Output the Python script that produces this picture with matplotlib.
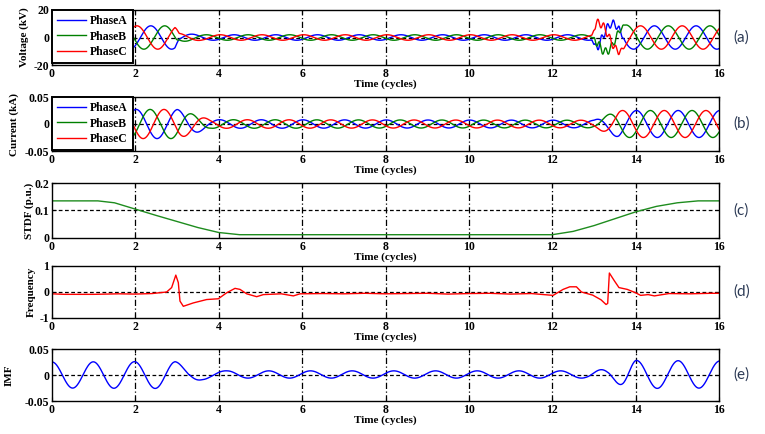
import numpy as np
import matplotlib
matplotlib.use("Agg")
import matplotlib.pyplot as plt

# ---------------- data ----------------
x_ticks = [0, 2, 4, 6, 8, 10, 12, 14, 16]
phase_names = ["PhaseA", "PhaseB", "PhaseC"]
panel_tags = ["(a)", "(b)", "(c)", "(d)", "(e)"]

# Voltage (kV): per-cycle envelope of the three-phase waveform
volt_env_t = [0, 2.95, 3.05, 3.6, 12.95, 13.05, 13.6, 13.9, 16]
volt_env_amp = [8.5, 8.5, 3.0, 2.0, 2.0, 10.5, 10.0, 8.5, 8.5]
volt_phase_t = [0, 12.95, 13.1, 16]
volt_phase_A = [0.37, 0.37, 0.45, 0.45]          # time of phase-A peak (fraction of cycle)
volt_ripple_t = [0, 12.98, 13.05, 13.6, 13.75, 16]
volt_ripple_amp = [0, 0, 3.0, 2.5, 0, 0]         # distortion during the 13-13.7 transient

# Current (kA)
curr_env_t = [0, 3.0, 3.8, 13.0, 13.6, 16]
curr_env_amp = [0.027, 0.027, 0.008, 0.007, 0.025, 0.025]
curr_phase_A = 0.02

# STDF (p.u.)
stdf_t = [0, 1.1, 1.5, 2.0, 2.5, 3.0, 3.5, 4.0, 4.5, 12.0, 12.5, 13.0, 13.5, 14.0, 14.5, 15.0, 15.5, 16]
stdf_v = [0.135, 0.135, 0.128, 0.105, 0.082, 0.060, 0.038, 0.020, 0.012, 0.012, 0.024, 0.045, 0.070, 0.095, 0.115, 0.128, 0.135, 0.135]

# Frequency deviation
freq_t = [0.0, 0.3, 1.0, 1.6, 2.0, 2.4, 2.75, 2.87, 2.97, 3.03, 3.07, 3.15, 3.39, 3.71, 3.99, 4.19, 4.39,
          4.51, 4.67, 4.91, 5.07, 5.5, 5.79, 5.95, 6.5, 7.0, 7.5, 8.0, 8.5, 9.0, 9.5, 10.0, 10.5, 11.0,
          11.5, 12.02, 12.26, 12.42, 12.58, 12.7, 12.97, 13.17, 13.29, 13.33, 13.37, 13.49, 13.6,
          13.8, 14.0, 14.12, 14.3, 14.45, 14.8, 15.3, 15.8, 16.0]
freq_v = [-0.07, -0.09, -0.09, -0.07, -0.08, -0.06, 0.0, 0.17, 0.65, 0.36, -0.35, -0.55, -0.42, -0.29,
          -0.26, -0.03, 0.14, 0.10, -0.07, -0.18, -0.10, -0.07, -0.15, -0.07, -0.06, -0.07, -0.05,
          -0.07, -0.06, -0.05, -0.08, -0.06, -0.05, -0.08, -0.06, -0.13, 0.10, 0.20, 0.20, 0.0,
          -0.12, -0.30, -0.48, -0.44, 0.73, 0.43, 0.17, 0.10, -0.03, -0.13, -0.10, -0.15, -0.06,
          -0.07, -0.05, -0.05]

# IMF
imf_env_t = [0, 2.95, 3.2, 3.6, 4.2, 12.8, 13.3, 13.65, 14.0, 16]
imf_env_amp = [0.025, 0.026, 0.018, 0.010, 0.007, 0.007, 0.010, 0.020, 0.027, 0.026]
imf_phase_t = [0, 2.9, 3.6, 4.2, 12.9, 13.7, 14.0, 16]
imf_phase = [0.0, -0.03, 0.1, 0.2, 0.2, 0.1, 0.02, 0.02]
imf_offset = 0.001

# ---------------- build waveforms ----------------
t = np.linspace(0, 16, 4001)

def three_phase(amp, peak):
    out = []
    for k in range(3):
        out.append(amp * np.cos(2 * np.pi * (t - peak - k / 3.0)))
    return out

v_amp = np.interp(t, volt_env_t, volt_env_amp)
v_pk = np.interp(t, volt_phase_t, volt_phase_A)
v_rip = np.interp(t, volt_ripple_t, volt_ripple_amp)
volts = three_phase(v_amp, v_pk)
for k in range(3):
    volts[k] = volts[k] + v_rip * np.sin(2 * np.pi * 7 * (t - 0.1 * k))

c_amp = np.interp(t, curr_env_t, curr_env_amp)
currs = three_phase(c_amp, curr_phase_A)

imf_amp = np.interp(t, imf_env_t, imf_env_amp)
imf_ph = np.interp(t, imf_phase_t, imf_phase)
imf = imf_amp * np.cos(2 * np.pi * (t - imf_ph)) + np.where(t > 3.3, imf_offset, 0)

# ---------------- figure ----------------
plt.rcParams["font.family"] = ["Liberation Serif", "DejaVu Serif"]
plt.rcParams["font.weight"] = "bold"
plt.rcParams["axes.labelweight"] = "bold"

fig = plt.figure(figsize=(7.65, 4.34), dpi=100)
W, H = 765.0, 434.0
left_px, right_px = 52, 719
boxes = [(10, 65), (97, 151), (183, 238), (266, 318), (349, 401)]
ylabel_right_px = [29, 19, 34, 36, 14]
axes = []
for top, bot in boxes:
    ax = fig.add_axes([left_px / W, 1 - bot / H, (right_px - left_px) / W, (bot - top) / H])
    axes.append(ax)

cols = ["#0000ff", "#008000", "#ff0000"]
green = "#1e8c1e"

def style(ax, idx, yticks, ylabel, hline):
    ax.set_xlim(0, 16)
    ax.set_xticks(x_ticks)
    ax.set_yticks(yticks)
    ax.set_ylim(yticks[0], yticks[-1])
    ax.tick_params(direction="in", length=3, width=0.8, labelsize=8.5, pad=2, top=True, right=True)
    for lab in ax.get_xticklabels() + ax.get_yticklabels():
        lab.set_fontweight("bold")
    for xv in x_ticks[1:-1]:
        ax.axvline(xv, color="k", lw=0.9, dashes=[5, 2, 1, 2], zorder=0.5)
    ax.axhline(hline, color="k", lw=0.9, dashes=[3, 2], zorder=0.5)
    for s in ax.spines.values():
        s.set_linewidth(1.0)
    ax.set_xlabel("Time (cycles)", fontsize=8, labelpad=0, fontweight="bold")
    ax.set_ylabel(ylabel, fontsize=8, fontweight="bold")
    ax.yaxis.set_label_coords((ylabel_right_px[idx] - left_px) / (right_px - left_px), 0.5)

def add_legend(ax, lines):
    leg = ax.legend(lines, phase_names, loc="upper left", bbox_to_anchor=(0, 1), borderaxespad=0,
                    fontsize=8.5, handlelength=2.4, handletextpad=0.35, labelspacing=0.28,
                    borderpad=0.45, fancybox=False, framealpha=1, edgecolor="k")
    leg.get_frame().set_linewidth(1.4)
    for txt in leg.get_texts():
        txt.set_fontweight("bold")

# (a)
ax = axes[0]
lines = []
for k in range(3):
    l, = ax.plot(t, volts[k], color=cols[k], lw=1.0)
    lines.append(l)
style(ax, 0, [-20, 0, 20], "Voltage (kV)", 0)
ax.set_yticklabels(["-20", "0", "20"])
add_legend(ax, lines)

# (b)
ax = axes[1]
lines = []
for k in range(3):
    l, = ax.plot(t, currs[k], color=cols[k], lw=1.0)
    lines.append(l)
style(ax, 1, [-0.05, 0, 0.05], "Current (kA)", 0)
ax.set_yticklabels(["-0.05", "0", "0.05"])
add_legend(ax, lines)

# (c)
ax = axes[2]
ax.plot(stdf_t, stdf_v, color=green, lw=1.0)
style(ax, 2, [0, 0.1, 0.2], "STDF (p.u.)", 0.1)
ax.set_yticklabels(["0", "0.1", "0.2"])

# (d)
ax = axes[3]
ax.plot(freq_t, freq_v, color="#ff0000", lw=1.0)
style(ax, 3, [-1, 0, 1], "Frequency", 0)
ax.set_yticklabels(["-1", "0", "1"])

# (e)
ax = axes[4]
ax.plot(t, imf, color="#0000ff", lw=1.0)
style(ax, 4, [-0.05, 0, 0.05], "IMF", 0)
ax.set_yticklabels(["-0.05", "0", "0.05"])

for (top, bot), tag in zip(boxes, panel_tags):
    fig.text(733 / W, 1 - (top + bot) / 2 / H, tag, fontsize=11, family=["Lato", "DejaVu Sans"],
             fontweight="normal", color="#2c3a55", va="center", ha="left")

fig.savefig("out.png", dpi=100, facecolor="white")
